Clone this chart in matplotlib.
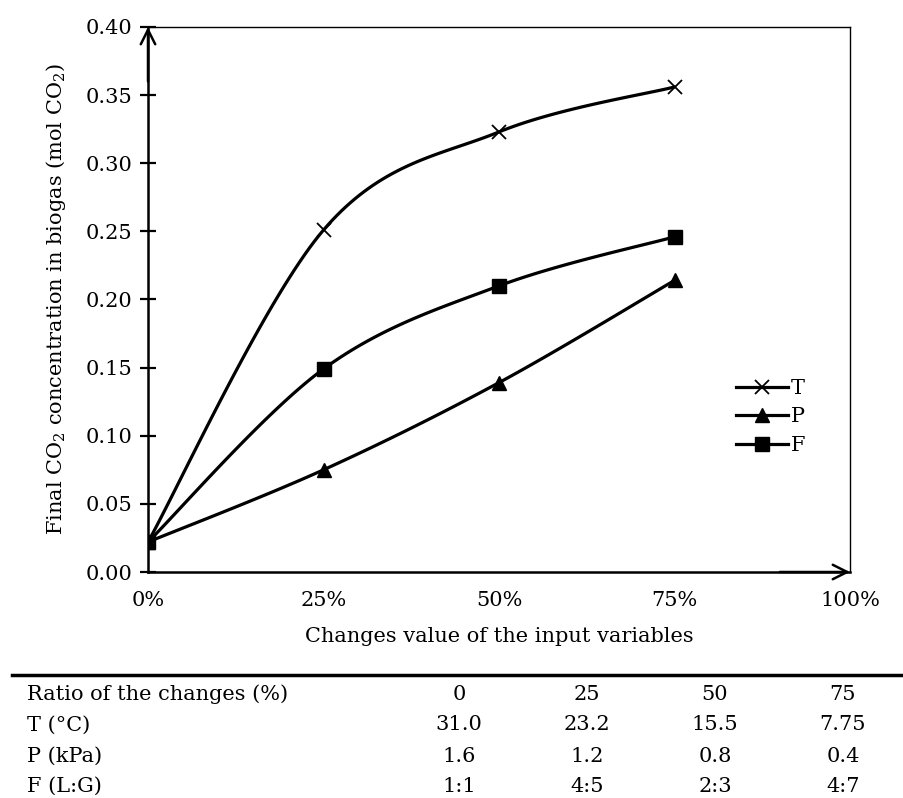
import numpy as np
import matplotlib.pyplot as plt
from matplotlib.ticker import FuncFormatter

# data
changes = [0.0, 0.25, 0.50, 0.75]
t_co2 = [0.022, 0.251, 0.323, 0.356]
p_co2 = [0.022, 0.075, 0.139, 0.214]
f_co2 = [0.022, 0.149, 0.210, 0.246]

row_labels = ['Ratio of the changes (%)', 'T (°C)', 'P (kPa)', 'F (L:G)']
row_values = [['0', '25', '50', '75'],
              ['31.0', '23.2', '15.5', '7.75'],
              ['1.6', '1.2', '0.8', '0.4'],
              ['1:1', '4:5', '2:3', '4:7']]

plt.rcParams['font.family'] = ['DejaVu Serif']
plt.rcParams['mathtext.fontset'] = 'dejavuserif'
FS = 15

W, H = 904, 798
fig = plt.figure(figsize=(W / 100, H / 100), dpi=100)
ax = fig.add_axes([148 / W, 1 - 572 / H, 702 / W, 545 / H])

XMAX, YMAX = 1.0, 0.40
AXW, AXH = 702.0, 545.0


def excel_smooth(x, y, n=40):
    # Excel-like smoothed line: bezier with control points from neighbours,
    # computed in screen space so the shape matches
    px = np.asarray(x) / XMAX * AXW
    py = np.asarray(y) / YMAX * AXH
    out_x, out_y = [], []
    m = len(px)
    for i in range(m - 1):
        p0 = np.array([px[max(i - 1, 0)], py[max(i - 1, 0)]])
        p1 = np.array([px[i], py[i]])
        p2 = np.array([px[i + 1], py[i + 1]])
        p3 = np.array([px[min(i + 2, m - 1)], py[min(i + 2, m - 1)]])
        c1 = p1 + (p2 - p0) / 6.0
        c2 = p2 - (p3 - p1) / 6.0
        s = np.linspace(0, 1, n)[:, None]
        b = ((1 - s) ** 3) * p1 + 3 * ((1 - s) ** 2) * s * c1 + 3 * (1 - s) * s ** 2 * c2 + s ** 3 * p2
        out_x.append(b[:, 0])
        out_y.append(b[:, 1])
    return np.concatenate(out_x) / AXW * XMAX, np.concatenate(out_y) / AXH * YMAX


series = [('T', t_co2, 'x', 10, 1.3),
          ('P', p_co2, '^', 10, 1.0),
          ('F', f_co2, 's', 10, 1.0)]
for name, vals, mk, ms, mew in series:
    sx, sy = excel_smooth(changes, vals)
    ax.plot(sx, sy, color='black', lw=2.3, solid_capstyle='round', zorder=3)
    ax.plot(changes, vals, ls='none', marker=mk, ms=ms, mew=mew,
            color='black', mfc='black', mec='black', zorder=4)
    # legend proxy
    ax.plot([], [], color='black', lw=2.3, marker=mk, ms=ms, mew=mew, label=name)

ax.set_xlim(0, XMAX)
ax.set_ylim(0, YMAX)
ax.set_xticks([0, 0.25, 0.5, 0.75, 1.0])
ax.xaxis.set_major_formatter(FuncFormatter(lambda v, p: f'{v * 100:.0f}%'))
ax.set_yticks(np.arange(0, 0.401, 0.05))
ax.yaxis.set_major_formatter(FuncFormatter(lambda v, p: f'{v:.2f}'))
ax.tick_params(axis='y', direction='inout', length=11, width=1.6, labelsize=FS, pad=6)
ax.tick_params(axis='x', direction='out', length=0, labelsize=FS, pad=14)

for s in ['left', 'bottom']:
    ax.spines[s].set_linewidth(1.8)
for s in ['top', 'right']:
    ax.spines[s].set_linewidth(1.0)

# arrow heads on the axes
arrow_kw = dict(arrowstyle='->', lw=1.8, mutation_scale=26, color='black',
                shrinkA=0, shrinkB=0)
ax.annotate('', xy=(0, YMAX), xytext=(0, YMAX * 0.9), arrowprops=arrow_kw,
            annotation_clip=False)
ax.annotate('', xy=(XMAX, 0), xytext=(XMAX * 0.9, 0), arrowprops=arrow_kw,
            annotation_clip=False)

ax.set_xlabel('Changes value of the input variables', fontsize=FS, labelpad=12)
ax.set_ylabel('Final CO$_2$ concentration in biogas (mol CO$_2$)', fontsize=FS, labelpad=12)

ax.legend(loc='center left', bbox_to_anchor=(580 / AXW, (572 - 417) / AXH), frameon=False,
          fontsize=FS, handlelength=2.5, handletextpad=0.1, labelspacing=0.45,
          borderaxespad=0)

# table under the chart
fig.add_artist(plt.Line2D([12 / W, 1.0], [1 - 675 / H, 1 - 675 / H], color='black', lw=2.5))
col_x = [459, 587, 715, 843]
row_y = [694, 725, 756, 786]
for lab, vals, yy in zip(row_labels, row_values, row_y):
    fig.text(27 / W, 1 - yy / H, lab, fontsize=FS, ha='left', va='center')
    for v, xx in zip(vals, col_x):
        fig.text(xx / W, 1 - yy / H, v, fontsize=FS, ha='center', va='center')

fig.savefig('out.png', dpi=100)
